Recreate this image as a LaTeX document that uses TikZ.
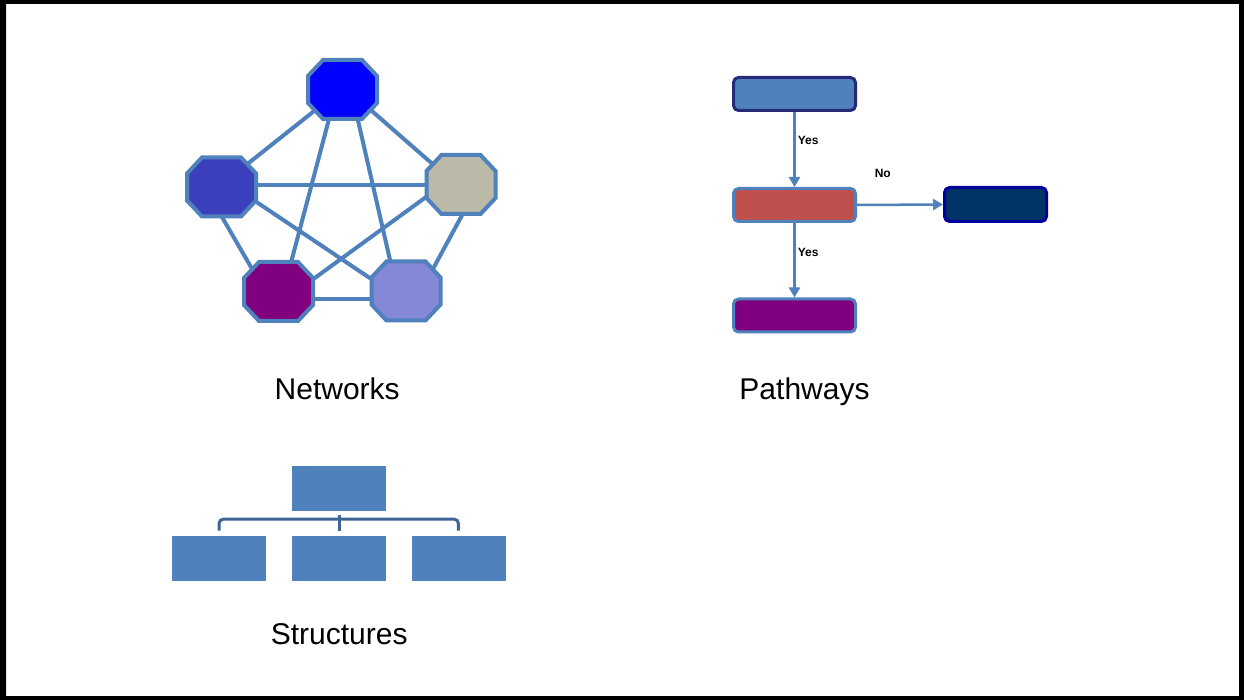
\documentclass[tikz,border=0pt]{standalone}
\usepackage{fontspec}
\setmainfont{Liberation Sans}
\usetikzlibrary{arrows.meta,backgrounds}
\definecolor{netblue}{HTML}{4F81BD}
\definecolor{octT}{HTML}{0000FF}
\definecolor{octL}{HTML}{3B3FBB}
\definecolor{octR}{HTML}{BBB9A8}
\definecolor{octBL}{HTML}{800080}
\definecolor{octBR}{HTML}{8588D6}
\definecolor{navyborder}{HTML}{262A78}
\definecolor{redfill}{HTML}{C0504D}
\definecolor{darknavy}{HTML}{003366}
\definecolor{darkblueborder}{HTML}{0000A0}
\definecolor{structline}{HTML}{3F6596}
\tikzset{
  octslot/.style={rectangle, minimum width=69pt, minimum height=59pt, inner sep=0pt, outer sep=0pt},
  octline/.style={draw=netblue, line width=4pt, line join=miter},
  netedge/.style={draw=netblue, line width=4pt, shorten <=-3pt, shorten >=-3pt},
  pbox/.style={rectangle, rounded corners=5pt, minimum width=122pt, minimum height=33pt,
    inner sep=0pt, line width=3pt, draw=netblue},
  parrow/.style={draw=netblue, line width=2.5pt, -{Triangle[length=10pt,width=11pt]}},
  lbl/.style={font=\fontsize{12}{14}\selectfont\bfseries, inner sep=1pt},
  title/.style={font=\fontsize{30}{34}\selectfont, inner sep=0pt, anchor=base},
  sbox/.style={rectangle, fill=netblue, draw=white, line width=0.6pt, minimum width=95pt,
    minimum height=46pt, inner sep=0pt},
  sconn/.style={draw=structline, line width=3pt}
}
\newcommand{\octdraw}[2]{%
  \filldraw[octline, fill=#2]
    ([xshift=15pt]#1.north west) -- ([xshift=-15pt]#1.north east) --
    ([yshift=-16pt]#1.north east) -- ([yshift=16pt]#1.south east) --
    ([xshift=-15pt]#1.south east) -- ([xshift=15pt]#1.south west) --
    ([yshift=16pt]#1.south west) -- ([yshift=-16pt]#1.north west) -- cycle;}
\begin{document}
\begin{tikzpicture}[x=1pt,y=-1pt]
\useasboundingbox (0,0) rectangle (1244,700);
\fill[black, even odd rule] (0,0) rectangle (1244,700) (6,4) rectangle (1239,696);

% Networks
\node[octslot] (T)  at (342.5,89.5) {};
\node[octslot] (L)  at (221.5,187) {};
\node[octslot] (R)  at (461,184.5) {};
\node[octslot] (BL) at (278.5,291.5) {};
\node[octslot] (BR) at (406,291) {};
\octdraw{T}{octT}
\octdraw{L}{octL}
\octdraw{R}{octR}
\octdraw{BL}{octBL}
\octdraw{BR}{octBR}
\begin{scope}[on background layer]
\fill[white] (6,4) rectangle (1239,696);
\draw[netedge] ([shift={(-29.2,22.2)}]T.center) -- ([shift={(26.8,-23.7)}]L.center);
\draw[netedge] ([shift={(30.2,22.2)}]T.center) -- ([shift={(-29.3,-21.2)}]R.center);
\draw[netedge] ([shift={(-14.2,32.2)}]T.center) -- ([shift={(13.2,-31.5)}]BL.center);
\draw[netedge] ([shift={(15.8,32.2)}]T.center) -- ([shift={(-16,-31)}]BR.center);
\draw[netedge] ([shift={(34.5,-1.7)}]L.center) -- ([shift={(-34.5,0.8)}]R.center);
\draw[netedge] ([shift={(0.2,29.5)}]L.center) -- ([shift={(-26.8,-23.2)}]BL.center);
\draw[netedge] ([shift={(34.5,14.7)}]L.center) -- ([shift={(-34.3,-11.7)}]BR.center);
\draw[netedge] ([shift={(-34.5,12.2)}]R.center) -- ([shift={(34.5,-12.2)}]BL.center);
\draw[netedge] ([shift={(1.7,29.5)}]R.center) -- ([shift={(27.3,-22.7)}]BR.center);
\draw[netedge] ([shift={(34.5,7.8)}]BL.center) -- ([shift={(-34.5,8.3)}]BR.center);
\end{scope}
\node[title] (nettitle) at (337.2,399.5) {Networks};

% Pathways
\node[pbox, fill=netblue, draw=navyborder] (p1) at (794.5,94) {};
\node[pbox, fill=redfill] (p2) at (794.5,205) {};
\node[pbox, fill=octBL] (p3) at (794.5,315.5) {};
\node[pbox, fill=darknavy, draw=darkblueborder, minimum width=102pt, minimum height=34pt] (p4) at (995.5,204.5) {};
\draw[parrow] (p1) -- node[lbl, pos=0.38, anchor=west, xshift=1pt] {Yes} (p2);
\draw[parrow] (p2) -- node[lbl, pos=0.39, anchor=west, xshift=1pt] {Yes} (p3);
\draw[parrow] (p2.east) -- node[lbl, pos=0.3, yshift=31pt] {No} (p4.west);
\node[title] (pathtitle) at (804.5,399.5) {Pathways};

% Structures
\node[sbox] (s0) at (339,488) {};
\node[sbox] (s1) at (219.2,558) {};
\node[sbox] (s2) at (339,558) {};
\node[sbox] (s3) at (458.3,558) {};
\draw[sconn] ([yshift=-3.5pt]s0.south) -- ([yshift=4pt]s2.north);
\draw[sconn, rounded corners=4pt] ([yshift=4pt]s1.north) -- ++(0,-11.5) -| ([yshift=4pt]s3.north);
\node[title] (structtitle) at (339.2,644.3) {Structures};
\end{tikzpicture}
\end{document}
